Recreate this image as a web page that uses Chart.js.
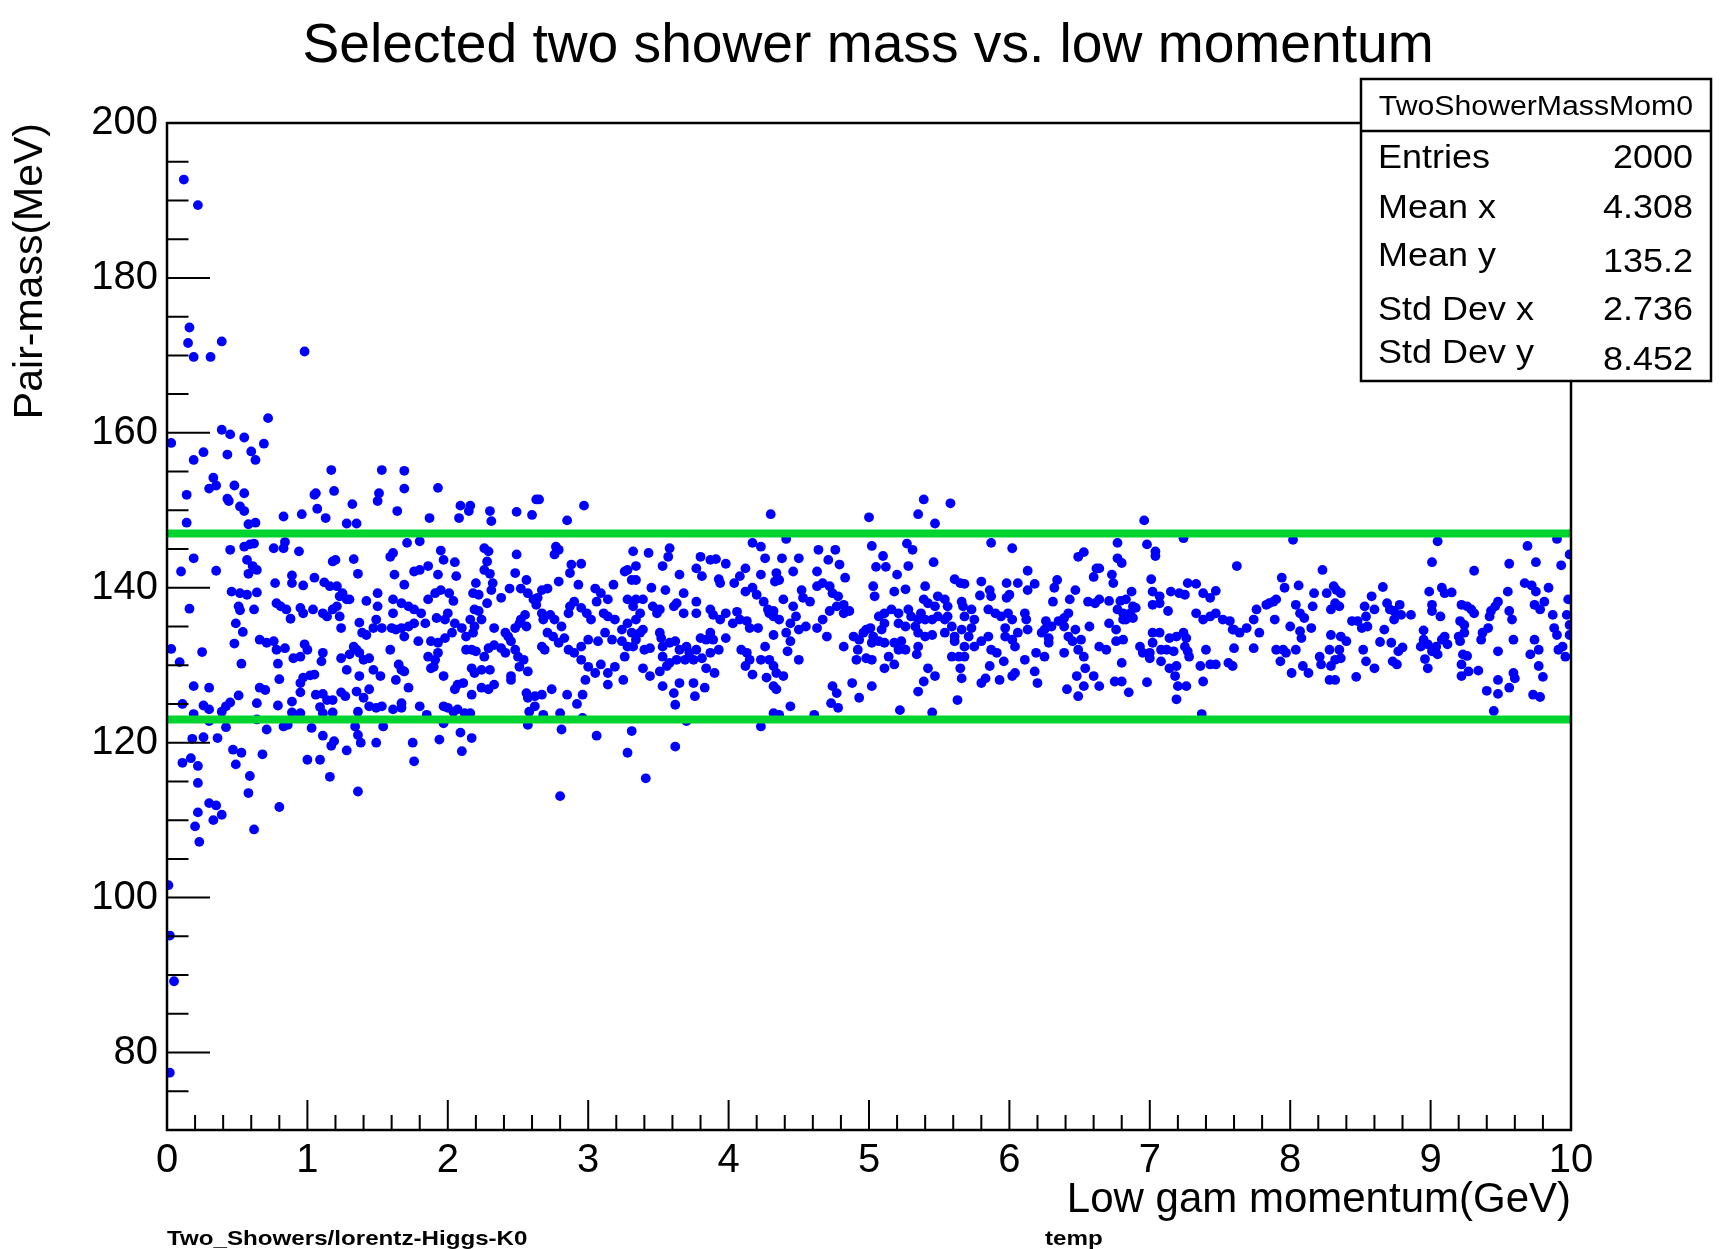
<!DOCTYPE html>
<html><head><meta charset="utf-8">
<script src="https://cdn.jsdelivr.net/npm/chart.js@4.4.1/dist/chart.umd.min.js"></script>
<style>html,body{margin:0;padding:0;background:#fff;}#wrap{width:1728px;height:1249px;}</style>
</head><body><div id="wrap"><canvas id="c" width="1728" height="1249"></canvas></div>
<script>
const titleText = 'Selected two shower mass vs. low momentum';
const xTitle = 'Low gam momentum(GeV)';
const yTitle = 'Pair-mass(MeV)';
const xTickValues = [0,1,2,3,4,5,6,7,8,9,10];
const yTickValues = [80,100,120,140,160,180,200];
const xRange = [0,10];
const yRange = [70,200];
const xMinorStep = 0.2;
const yMinorStep = 5;
const cutLow = 123;
const cutHigh = 147;
const statsName = 'TwoShowerMassMom0';
const statsLabels = ['Entries','Mean x','Mean y','Std Dev x','Std Dev y'];
const statsValues = ['2000','4.308','135.2','2.736','8.452'];
const footLeft = 'Two_Showers/lorentz-Higgs-K0';
const footMid = 'temp';

// [momentum GeV, pair mass MeV]
const highMassTail = [[0.12,192.7],[0.22,189.4],[0.16,173.6],[0.15,171.6],[0.19,169.8],[0.31,169.8],[0.39,171.8],[0.98,170.5],[0.72,161.9],[0.39,160.4],[0.45,159.8],[0.55,159.4],[0.03,158.7],[0.69,158.6],[0.26,157.5],[0.19,156.5],[0.43,157.2],[0.60,157.6],[0.63,156.5],[1.17,155.2],[1.53,155.2],[1.69,155.1],[0.33,154.2],[0.30,152.8],[0.35,153.2],[0.48,153.2],[0.55,152.2],[0.14,152.0],[0.43,151.5],[0.44,151.2],[1.05,152.0],[1.06,152.2],[1.19,152.5],[1.32,150.8],[1.50,151.2],[1.51,152.2],[1.69,152.8],[1.93,152.9],[0.52,150.5],[0.55,149.9],[1.07,150.2],[1.64,149.9],[1.87,149.0],[0.96,149.5],[0.83,149.2],[1.13,149.0],[2.09,150.6],[2.16,150.6],[2.15,149.9],[2.30,149.9],[2.49,149.8],[2.60,149.4],[2.63,151.4],[2.65,151.4],[2.97,150.6],[2.85,148.7],[2.08,149.0],[2.31,148.6],[0.14,148.4],[0.58,148.2],[0.63,148.4],[1.28,148.3],[1.35,148.3],[4.30,149.5],[5.39,151.4],[5.58,150.9],[5.35,149.5],[5.47,148.3],[5.00,149.1],[6.96,148.7]];

const lowMassTail = [[0.80,111.7],[0.62,108.8],[0.23,107.2],[0.20,109.2],[0.33,110.0],[0.39,110.7],[0.22,111.0],[0.30,112.2],[0.35,111.9],[0.01,101.6],[0.02,95.1],[0.05,89.2],[0.02,77.4]];

const band0to17 = [[0.45,144.9],[0.55,145.3],[0.59,145.6],[0.62,145.7],[0.76,145.1],[0.83,145.1],[0.84,145.9],[0.94,144.7],[0.19,143.8],[0.57,143.6],[0.61,142.8],[0.64,142.3],[0.58,141.8],[0.10,142.1],[0.35,142.2],[0.89,141.6],[0.89,140.6],[1.05,141.3],[1.12,140.7],[0.97,140.3],[0.77,140.6],[1.18,143.4],[1.20,143.6],[1.33,143.7],[1.36,141.8],[1.59,144.0],[1.61,144.5],[1.62,141.7],[0.46,139.5],[0.52,139.3],[0.57,139.1],[0.64,139.4],[1.16,140.2],[1.21,140.2],[1.25,139.3],[1.28,138.5],[1.30,138.5],[1.23,138.9],[1.42,138.3],[1.50,139.3],[0.16,137.3],[0.51,137.6],[0.52,137.1],[0.62,137.2],[0.78,138.0],[0.81,137.6],[0.85,137.2],[0.88,136.0],[0.95,137.4],[0.97,136.7],[1.04,137.2],[1.11,136.7],[1.14,136.3],[1.18,137.2],[1.21,137.6],[1.23,136.3],[1.24,134.8],[1.37,135.5],[1.39,134.2],[1.42,133.9],[1.49,135.9],[1.50,137.6],[1.47,134.8],[1.53,134.8],[1.60,134.8],[1.61,136.7],[0.49,135.4],[0.54,134.3],[0.48,132.8],[0.03,132.1],[0.25,131.7],[0.09,130.4],[0.53,130.2],[0.66,133.3],[0.71,132.9],[0.76,133.1],[0.78,132.0],[0.84,132.2],[0.90,130.9],[0.95,131.1],[0.98,132.7],[1.00,132.0],[1.11,131.6],[1.10,130.5],[0.79,130.2],[0.80,128.2],[0.95,127.7],[0.97,128.4],[1.02,128.7],[1.05,128.8],[1.24,130.9],[1.30,131.4],[1.33,132.4],[1.35,132.0],[1.37,131.6],[1.40,130.7],[1.44,130.9],[1.28,129.4],[1.37,128.6],[1.47,129.4],[1.52,128.6],[0.19,127.3],[0.30,127.1],[0.66,127.1],[0.70,126.8],[0.51,126.1],[0.64,125.1],[0.79,124.8],[0.89,125.3],[0.95,126.5],[1.06,126.2],[1.11,126.3],[1.14,125.5],[1.18,125.5],[1.24,126.5],[1.27,126.0],[1.35,126.6],[1.40,125.8],[1.44,126.9],[1.44,124.7],[1.49,124.5],[1.53,124.7],[1.61,124.3],[0.11,125.0],[0.26,124.8],[0.30,124.3],[0.39,124.0],[0.42,124.7],[0.45,125.2],[0.19,123.7],[0.89,123.9],[0.95,123.8],[1.09,124.6],[1.11,123.8],[1.18,123.9],[1.36,124.0],[1.63,128.1],[1.59,132.0],[1.61,138.5],[1.63,134.6],[1.65,130.1],[0.64,123.0],[0.71,121.7],[0.83,122.1],[0.86,122.3],[1.03,121.9],[1.11,120.9],[1.17,119.6],[1.19,120.2],[1.28,119.0],[1.36,121.0],[1.38,120.0],[1.49,120.0],[0.18,120.5],[0.26,120.7],[0.36,120.6],[0.47,119.1],[0.53,118.7],[0.49,117.2],[0.68,118.5],[0.11,117.4],[0.17,118.0],[0.22,117.0],[1.00,117.8],[1.09,117.8],[1.16,115.6],[0.59,115.7],[0.22,114.8],[0.58,113.5],[1.36,113.7],[1.54,122.1],[1.34,122.1],[0.42,122.0],[0.30,122.8]];

const band17to33 = [[1.71,145.8],[1.80,146.0],[1.95,144.8],[1.97,143.6],[2.05,143.3],[2.06,141.5],[1.93,141.7],[1.86,142.8],[1.80,142.3],[1.76,142.1],[1.69,140.4],[2.26,145.1],[2.29,144.7],[2.28,143.4],[2.26,142.3],[2.30,141.8],[2.32,140.6],[2.20,140.6],[2.31,139.7],[2.28,138.0],[2.18,139.3],[2.22,139.1],[2.38,138.7],[2.44,139.9],[2.49,144.3],[2.48,141.9],[2.52,139.9],[2.56,141.0],[2.57,139.3],[2.61,138.5],[2.64,138.7],[2.67,139.7],[2.71,139.9],[2.77,145.3],[2.79,144.9],[2.76,144.3],[2.79,140.8],[2.88,143.0],[2.95,143.1],[2.87,141.9],[2.93,140.4],[3.05,139.9],[3.09,139.3],[3.14,138.5],[3.18,140.4],[3.26,142.1],[3.28,142.3],[3.28,138.5],[3.32,144.7],[3.31,141.0],[1.67,138.0],[1.72,137.6],[1.76,137.2],[1.81,136.7],[1.86,138.5],[1.91,139.3],[1.95,139.7],[2.01,139.3],[2.04,138.3],[2.00,136.7],[1.98,135.9],[1.92,136.1],[1.84,135.4],[1.76,135.4],[1.72,135.0],[1.67,134.8],[1.69,133.7],[1.79,133.1],[1.88,133.1],[1.93,132.9],[1.98,133.5],[2.03,134.2],[2.05,135.4],[2.10,134.8],[2.13,133.7],[2.18,134.2],[2.19,135.0],[2.16,135.9],[2.19,137.2],[2.22,137.0],[2.24,135.9],[2.13,132.0],[2.17,132.0],[2.20,131.8],[2.26,131.1],[2.29,132.2],[2.33,132.6],[2.38,132.2],[2.41,131.6],[2.43,133.7],[2.48,134.8],[2.51,135.4],[2.52,135.9],[2.55,136.5],[2.56,135.0],[2.45,133.1],[2.48,132.0],[2.50,131.1],[2.54,130.7],[2.57,129.2],[2.51,129.8],[2.45,128.6],[2.41,134.2],[2.33,134.8],[2.63,137.8],[2.67,136.7],[2.68,135.9],[2.73,136.5],[2.76,135.9],[2.81,135.0],[2.71,134.2],[2.67,132.4],[2.69,132.0],[2.75,133.7],[2.79,132.9],[2.83,133.5],[2.86,136.7],[2.87,137.6],[2.90,138.2],[2.95,137.4],[2.99,136.7],[3.02,135.9],[3.06,138.2],[3.11,136.7],[3.14,136.3],[3.19,135.9],[3.24,134.6],[3.28,135.4],[3.31,134.2],[2.86,132.0],[2.90,131.6],[2.95,132.4],[3.00,133.3],[3.07,133.1],[3.12,134.2],[3.17,133.3],[3.24,133.1],[3.28,132.4],[2.95,130.7],[3.00,129.8],[3.05,129.0],[3.09,130.1],[3.14,129.0],[3.19,129.8],[3.26,131.1],[3.25,128.1],[3.14,127.5],[2.98,128.1],[1.67,129.4],[1.69,129.2],[1.72,127.1],[1.88,129.6],[1.86,131.1],[1.91,130.7],[1.93,131.6],[1.90,129.8],[1.97,128.6],[2.05,126.9],[2.07,127.5],[2.11,127.7],[2.17,126.2],[2.24,127.1],[2.29,126.9],[2.33,127.5],[2.17,129.6],[2.19,129.0],[2.24,129.4],[2.30,129.4],[1.67,125.1],[1.67,124.5],[1.80,124.7],[1.85,123.6],[1.97,124.7],[2.00,124.5],[2.04,124.0],[2.07,124.3],[2.12,123.8],[2.16,123.8],[2.45,128.1],[2.56,126.4],[2.57,125.8],[2.62,126.0],[2.67,126.2],[2.74,126.9],[2.58,124.0],[2.62,124.7],[2.68,123.6],[2.80,123.8],[2.85,126.2],[2.92,125.0],[2.96,126.2],[2.57,122.3],[2.81,121.7],[2.96,123.2],[3.06,120.9],[3.31,121.5],[3.28,118.7],[1.75,120.0],[1.76,117.6],[1.94,120.4],[1.97,122.5],[2.09,121.3],[2.17,120.6],[2.10,118.9],[2.80,113.1]];

const band33to50 = [[4.17,145.8],[4.23,145.3],[4.41,146.3],[4.64,144.9],[4.76,144.9],[4.26,143.8],[4.38,143.8],[4.50,143.8],[4.63,142.1],[4.71,143.6],[4.79,143.0],[4.83,141.3],[3.34,142.8],[3.43,144.5],[3.58,145.1],[3.57,144.0],[3.53,142.8],[3.65,141.7],[3.80,144.0],[3.87,143.6],[3.91,143.7],[3.98,143.1],[4.12,142.5],[4.23,141.7],[4.34,141.9],[4.36,141.0],[4.33,140.8],[4.46,142.1],[3.34,141.0],[3.45,140.0],[3.55,139.7],[3.68,139.3],[3.77,142.5],[3.81,141.5],[3.93,141.1],[3.94,140.6],[4.04,140.6],[4.08,141.5],[4.12,139.5],[4.17,140.0],[4.20,139.1],[4.25,138.2],[4.28,137.2],[4.32,137.0],[4.39,138.5],[4.46,137.6],[4.52,139.7],[4.53,138.7],[4.58,138.2],[4.63,140.2],[4.67,140.6],[4.72,140.2],[4.74,139.3],[4.78,138.9],[4.82,137.8],[4.86,137.0],[3.34,138.5],[3.39,138.5],[3.32,137.6],[3.37,136.7],[3.46,137.6],[3.49,136.7],[3.51,137.2],[3.61,137.6],[3.63,138.0],[3.68,136.7],[3.77,138.2],[3.77,136.7],[3.87,137.2],[3.89,136.5],[3.94,135.9],[3.98,136.7],[4.06,136.9],[4.03,135.4],[4.08,135.9],[4.13,135.7],[4.15,134.8],[4.21,134.8],[4.29,136.7],[4.32,136.3],[4.36,135.9],[4.44,135.4],[4.48,136.3],[4.50,134.6],[4.55,135.0],[4.63,134.8],[4.67,135.9],[4.72,137.0],[4.77,137.6],[4.82,136.7],[4.70,133.7],[4.41,134.2],[4.32,133.9],[4.44,133.1],[3.34,135.9],[3.39,134.6],[3.37,134.2],[3.34,133.3],[3.32,132.4],[3.40,132.0],[3.44,132.2],[3.51,134.2],[3.52,133.5],[3.53,132.4],[3.58,132.9],[3.62,133.1],[3.65,132.0],[3.70,132.4],[3.72,131.6],[3.69,130.7],[3.63,130.7],[3.58,130.3],[3.53,131.1],[3.56,129.9],[3.51,129.2],[3.44,128.6],[3.39,129.6],[3.77,132.0],[3.80,133.5],[3.84,133.3],[3.87,134.2],[3.89,133.3],[3.93,132.0],[3.98,133.5],[3.87,131.6],[3.81,130.9],[3.75,130.7],[3.84,129.6],[3.90,129.0],[3.65,127.7],[3.61,126.4],[3.53,127.3],[3.75,127.7],[3.76,126.0],[3.62,124.9],[3.83,127.1],[4.09,132.0],[4.13,131.6],[4.15,130.7],[4.12,129.9],[4.17,128.8],[4.26,132.4],[4.23,130.7],[4.29,130.7],[4.32,129.9],[4.27,128.4],[4.34,129.0],[4.39,128.6],[4.32,127.3],[4.34,126.9],[4.42,131.8],[4.50,130.7],[4.44,124.7],[4.32,123.8],[4.36,123.6],[4.61,123.6],[4.74,127.3],[4.77,126.4],[4.73,125.1],[4.78,124.5],[4.88,127.7],[4.93,125.8],[4.82,132.4],[4.89,133.7],[4.93,133.3],[4.96,134.2],[4.92,132.0],[4.98,130.9],[4.91,130.7],[3.62,119.5],[3.41,115.4],[4.23,122.1],[3.70,122.8]];

const band50to66 = [[5.02,145.4],[5.27,145.7],[5.31,144.9],[5.10,144.1],[5.05,142.7],[5.12,142.7],[5.28,142.8],[5.20,141.7],[5.46,143.3],[5.87,145.8],[6.02,145.1],[6.49,144.0],[6.53,144.6],[6.62,142.5],[6.60,141.4],[6.13,142.2],[5.03,140.2],[5.04,138.9],[5.18,139.5],[5.26,139.8],[5.40,140.2],[5.61,141.1],[5.65,140.6],[5.68,140.5],[5.80,140.8],[5.86,139.7],[5.87,138.9],[5.79,139.0],[5.98,140.6],[6.06,140.6],[6.18,140.5],[6.13,139.7],[5.98,138.7],[6.00,139.1],[6.34,141.0],[6.32,140.0],[6.47,139.7],[6.31,138.2],[6.43,138.5],[6.56,138.2],[6.61,138.0],[6.64,138.5],[5.49,138.9],[5.54,138.5],[5.56,137.6],[5.39,138.5],[5.42,138.0],[5.47,137.6],[5.66,138.2],[5.67,137.6],[5.73,137.2],[5.68,136.3],[5.75,135.9],[5.85,137.2],[5.90,136.7],[5.94,136.3],[5.99,136.7],[6.02,135.9],[5.97,134.8],[6.11,136.7],[6.12,135.9],[6.13,134.6],[6.06,134.2],[6.26,135.7],[6.25,134.6],[6.30,135.0],[6.35,135.7],[6.39,136.1],[6.42,136.7],[6.39,135.0],[6.47,134.6],[6.57,135.0],[4.98,134.6],[5.01,134.8],[5.07,136.3],[5.11,136.7],[5.16,137.2],[5.21,136.7],[5.28,137.2],[5.30,136.3],[5.26,135.0],[5.21,135.4],[5.11,135.4],[5.09,134.6],[5.03,133.7],[5.02,132.9],[5.07,133.1],[5.11,132.9],[5.18,132.9],[5.21,132.0],[5.26,132.0],[5.02,130.7],[5.14,131.1],[5.18,130.1],[5.11,129.6],[5.23,133.1],[5.33,135.0],[5.35,134.2],[5.40,133.7],[5.45,133.9],[5.37,136.7],[5.40,135.9],[5.35,135.9],[5.45,135.9],[5.49,136.3],[5.54,135.9],[5.56,136.3],[5.59,135.0],[5.54,134.2],[5.61,133.7],[5.66,134.6],[5.73,134.8],[5.71,133.7],[5.68,132.4],[5.61,133.1],[5.59,131.1],[5.64,131.1],[5.68,131.1],[5.80,133.1],[5.85,133.7],[5.87,132.0],[5.91,131.6],[5.97,133.7],[6.02,133.3],[6.04,132.4],[5.96,130.5],[5.86,129.9],[5.75,132.4],[5.35,132.4],[5.34,131.4],[5.42,129.6],[5.47,128.6],[5.39,127.9],[5.35,126.6],[5.65,129.6],[5.66,128.3],[5.80,127.7],[5.83,128.3],[5.93,128.1],[6.02,128.6],[6.04,129.0],[6.11,130.7],[6.18,129.2],[6.20,127.7],[6.19,131.6],[6.25,131.1],[6.23,134.2],[6.28,133.5],[6.28,132.9],[6.39,131.6],[6.42,133.7],[6.45,133.1],[6.49,132.0],[6.51,133.3],[6.53,131.1],[6.54,129.6],[6.48,128.6],[6.53,127.3],[6.49,126.0],[6.60,128.6],[6.64,127.3],[6.41,126.9],[5.02,127.3],[5.22,124.2],[5.45,123.9],[5.63,125.5]];

const band66to83 = [[7.24,146.4],[8.02,146.2],[6.77,145.8],[6.98,145.6],[7.04,144.7],[7.04,144.1],[6.77,143.8],[6.80,143.2],[7.62,142.8],[8.23,142.3],[6.64,142.5],[6.73,141.7],[6.74,140.6],[7.01,141.1],[6.71,138.3],[6.79,138.3],[6.83,138.5],[6.87,139.5],[6.88,137.6],[6.90,137.4],[6.77,137.2],[6.81,136.7],[6.86,136.7],[6.83,135.9],[6.71,135.4],[6.76,134.6],[6.81,135.9],[6.88,136.1],[7.02,139.5],[7.07,138.9],[7.02,137.8],[7.07,138.0],[7.13,137.0],[7.15,139.5],[7.21,139.3],[7.25,139.1],[7.27,140.6],[7.33,140.5],[7.38,139.3],[7.43,138.7],[7.47,139.6],[7.33,136.7],[7.38,135.9],[7.43,136.3],[7.47,136.7],[7.52,135.9],[7.57,135.7],[7.60,134.6],[7.64,134.2],[7.69,134.8],[7.74,135.9],[7.76,137.2],[7.78,134.2],[7.83,137.8],[7.85,138.0],[7.88,138.2],[7.90,138.5],[7.94,141.3],[7.96,140.0],[8.06,140.3],[7.89,135.9],[8.00,135.0],[8.04,137.8],[8.07,136.7],[8.10,136.1],[8.16,137.6],[8.17,139.3],[8.26,139.3],[8.31,140.2],[8.29,137.2],[8.15,134.8],[8.07,134.4],[8.08,133.5],[8.29,133.9],[6.64,132.4],[6.69,132.0],[6.76,133.1],[6.81,133.3],[6.80,130.3],[6.75,127.9],[6.80,127.9],[6.85,126.5],[6.98,127.8],[7.02,134.2],[7.07,134.2],[7.02,132.9],[7.08,132.0],[7.12,132.0],[6.93,132.4],[6.95,131.6],[7.00,131.6],[7.00,130.9],[7.14,133.5],[7.19,133.7],[7.24,134.2],[7.26,133.5],[7.17,131.8],[7.08,130.5],[7.14,129.6],[7.19,129.9],[7.18,128.6],[7.20,127.3],[7.26,127.3],[7.19,125.6],[7.25,132.4],[7.27,131.8],[7.28,131.1],[7.36,129.9],[7.40,132.0],[7.43,130.1],[7.47,130.1],[7.56,130.3],[7.59,129.9],[7.59,134.6],[7.60,132.2],[7.74,132.2],[7.38,127.9],[7.37,123.7],[7.90,132.0],[7.95,132.0],[7.93,130.5],[8.01,129.0],[7.97,131.6],[8.04,132.0],[8.09,129.9],[8.13,129.0],[8.21,131.1],[8.22,130.1],[8.28,132.0],[8.29,129.9],[8.28,128.1]];

const band83to100 = [[9.05,146.0],[9.69,145.4],[9.90,146.3],[9.01,143.3],[9.31,142.2],[9.56,143.1],[9.75,143.3],[9.93,142.9],[9.99,144.3],[8.36,139.3],[8.33,139.7],[8.35,137.6],[8.32,138.0],[8.58,138.9],[8.66,140.1],[8.60,137.2],[8.53,137.6],[8.54,136.3],[8.44,135.7],[8.48,135.7],[8.51,134.8],[8.55,135.0],[8.69,138.0],[8.71,137.2],[8.74,137.0],[8.78,137.8],[8.79,136.5],[8.74,135.9],[8.86,136.5],[8.67,134.6],[8.64,133.0],[8.72,132.9],[8.80,132.3],[8.77,131.8],[8.76,130.1],[8.73,130.5],[8.54,130.5],[8.60,129.6],[8.52,132.0],[8.47,128.5],[8.36,133.7],[8.40,133.1],[8.35,132.0],[8.32,130.7],[8.32,128.1],[8.36,130.9],[8.99,139.5],[9.01,137.8],[9.01,137.0],[9.07,136.3],[9.08,140.0],[9.10,139.3],[9.15,139.4],[8.95,134.5],[8.95,133.3],[8.93,132.4],[8.98,132.7],[9.01,131.8],[9.04,132.4],[9.08,133.3],[9.10,133.7],[9.12,132.7],[9.05,131.4],[8.96,130.8],[8.98,129.6],[9.22,137.8],[9.26,137.6],[9.29,137.2],[9.31,136.7],[9.21,135.7],[9.24,135.2],[9.20,133.7],[9.21,133.1],[9.24,134.2],[9.23,131.4],[9.26,131.2],[9.22,130.1],[9.27,129.2],[9.22,128.6],[9.34,129.3],[9.36,133.3],[9.37,134.2],[9.41,134.8],[9.43,137.0],[9.46,137.6],[9.48,138.2],[9.42,136.3],[9.55,139.5],[9.56,137.0],[9.58,135.9],[9.59,133.3],[9.48,131.8],[9.59,129.0],[9.60,128.3],[9.56,127.1],[9.48,128.1],[9.48,126.3],[9.40,126.7],[9.45,124.1],[9.67,140.6],[9.72,140.3],[9.75,139.5],[9.74,137.8],[9.78,137.2],[9.81,138.2],[9.84,140.0],[9.87,136.5],[9.88,134.8],[9.90,133.9],[9.74,133.3],[9.77,132.0],[9.71,131.4],[9.77,129.9],[9.80,128.5],[9.73,126.2],[9.78,125.9],[9.91,132.0],[9.94,132.4],[9.96,131.1],[9.97,136.5],[9.98,138.5],[9.99,135.2],[9.99,133.9]];

const allEvents = [].concat(highMassTail, lowMassTail, band0to17, band17to33, band33to50, band50to66, band66to83, band83to100);

const FONT = "'Liberation Sans', Arial, Helvetica, sans-serif";

function drawText(ctx, str, x, y, size, sx, align, weight) {
  ctx.save();
  ctx.font = (weight || 'normal') + ' ' + size + 'px ' + FONT;
  ctx.textBaseline = 'alphabetic';
  ctx.textAlign = 'left';
  ctx.fillStyle = '#000';
  const w = ctx.measureText(str).width * sx;
  const x0 = align === 'right' ? x - w : (align === 'center' ? x - w / 2 : x);
  ctx.translate(x0, y);
  ctx.scale(sx, 1);
  ctx.fillText(str, 0, 0);
  ctx.restore();
}

const rootStyle = {
  id: 'rootStyle',
  afterDatasetsDraw(chart) {
    const ctx = chart.ctx;
    const {left, right, top, bottom} = chart.chartArea;
    const xs = chart.scales.x, ys = chart.scales.y;
    ctx.save();
    ctx.strokeStyle = '#000';
    ctx.lineWidth = 2.5;
    ctx.strokeRect(left, top, right - left, bottom - top);
    ctx.lineWidth = 2;
    ctx.beginPath();
    const nY = Math.round((yRange[1] - yRange[0]) / yMinorStep);
    for (let i = 0; i <= nY; i++) {
      const v = yRange[0] + i * yMinorStep;
      const py = ys.getPixelForValue(v);
      const len = yTickValues.includes(v) ? 43 : 21.5;
      ctx.moveTo(left, py); ctx.lineTo(left + len, py);
    }
    const nX = Math.round((xRange[1] - xRange[0]) / xMinorStep);
    for (let i = 0; i <= nX; i++) {
      const v = xRange[0] + i * xMinorStep;
      const px = xs.getPixelForValue(v);
      const len = (i % 5 === 0) ? 30 : 15;
      ctx.moveTo(px, bottom); ctx.lineTo(px, bottom - len);
    }
    ctx.stroke();
    ctx.restore();
  },
  afterDraw(chart) {
    const ctx = chart.ctx;
    ctx.save();
    const bx = 1361, by = 79, bw = 350, bh = 302;
    ctx.fillStyle = '#fff';
    ctx.fillRect(bx, by, bw, bh);
    ctx.strokeStyle = '#000';
    ctx.lineWidth = 2.5;
    ctx.strokeRect(bx, by, bw, bh);
    ctx.beginPath(); ctx.moveTo(bx, 131); ctx.lineTo(bx + bw, 131); ctx.stroke();
    ctx.restore();
    drawText(ctx, statsName, 1536, 115, 27, 1.12, 'center');
    const labelBase = [168, 218, 266, 320, 363];
    const valueBase = [168, 218, 272, 320, 370];
    statsLabels.forEach((l, i) => drawText(ctx, l, 1378, labelBase[i], 33, 1.09, 'left'));
    statsValues.forEach((v, i) => drawText(ctx, v, 1693, valueBase[i], 33, 1.09, 'right'));
    drawText(ctx, titleText, 868, 62, 56, 0.985, 'center');
    drawText(ctx, footLeft, 167, 1245, 21, 1.15, 'left', 'bold');
    drawText(ctx, footMid, 1045, 1245, 21, 1.15, 'left', 'bold');
  }
};

new Chart(document.getElementById('c'), {
  type: 'scatter',
  data: {
    datasets: [
      { label: 'upper cut', type: 'line', data: [{x: xRange[0], y: cutHigh}, {x: xRange[1], y: cutHigh}],
        borderColor: 'rgb(0,212,46)', borderWidth: 8, pointRadius: 0, fill: false, order: 0 },
      { label: 'lower cut', type: 'line', data: [{x: xRange[0], y: cutLow}, {x: xRange[1], y: cutLow}],
        borderColor: 'rgb(0,212,46)', borderWidth: 8, pointRadius: 0, fill: false, order: 0 },
      { label: statsName, data: allEvents.map(p => ({x: p[0], y: p[1]})),
        backgroundColor: '#0000ff', borderColor: '#0000ff', borderWidth: 0, pointRadius: 4.9, pointHoverRadius: 4.9, order: 1 }
    ]
  },
  options: {
    responsive: false, animation: false, devicePixelRatio: 1,
    layout: { padding: { top: 123, right: 157, left: 0, bottom: 0 } },
    plugins: { legend: { display: false }, tooltip: { enabled: false }, title: { display: false } },
    scales: {
      x: {
        type: 'linear', min: xRange[0], max: xRange[1],
        afterBuildTicks: s => { s.ticks = xTickValues.map(v => ({value: v})); },
        afterFit: s => { s.height = 119; },
        grid: { display: false, drawTicks: false }, border: { display: false },
        ticks: { font: { family: FONT, size: 40 }, color: '#000', padding: 7, maxRotation: 0, autoSkip: false },
        title: { display: true, text: xTitle, align: 'end', color: '#000', font: { family: FONT, size: 42 }, padding: { top: 0, bottom: 23 } }
      },
      y: {
        type: 'linear', min: yRange[0], max: yRange[1],
        afterBuildTicks: s => { s.ticks = yTickValues.map(v => ({value: v})); },
        afterFit: s => { s.width = 167; },
        grid: { display: false, drawTicks: false }, border: { display: false },
        ticks: { font: { family: FONT, size: 40 }, color: '#000', padding: 9, autoSkip: false },
        title: { display: true, text: yTitle, align: 'end', color: '#000', font: { family: FONT, size: 41 }, padding: { top: 6, bottom: 0 } }
      }
    }
  },
  plugins: [rootStyle]
});
</script>
</body></html>
